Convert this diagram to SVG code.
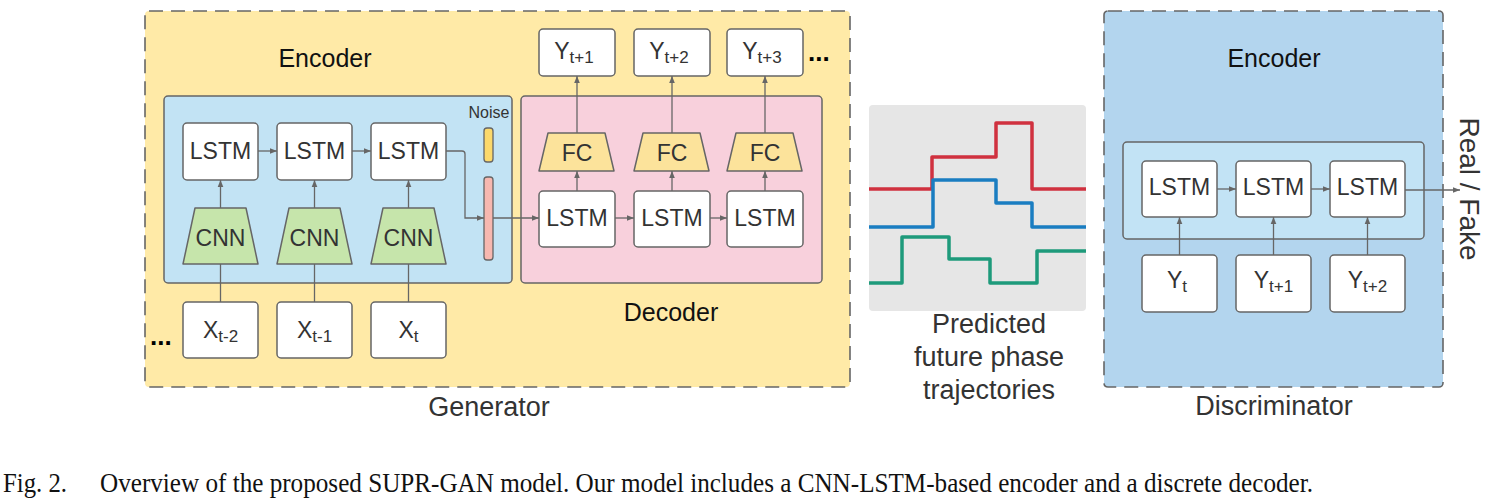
<svg xmlns="http://www.w3.org/2000/svg" width="1492" height="502" viewBox="0 0 1492 502">
<defs>
<marker id="ah" viewBox="0 0 10 10" refX="10" refY="5" markerWidth="7" markerHeight="7" orient="auto" markerUnits="userSpaceOnUse">
<path d="M0,1 L10,5 L0,9 z" fill="#666"/>
</marker>
<style>
.frame{stroke:#666;stroke-width:1.6;stroke-dasharray:14 8}
.box{fill:#fff;stroke:#666;stroke-width:1.5}
.t{font-family:"Liberation Sans",Arial,sans-serif;fill:#333;text-anchor:middle}
.big{font-size:27px}
.mid{font-size:23px}
.sub{font-size:17px}
.lbl{font-family:"Liberation Sans",Arial,sans-serif;font-size:25px;fill:#111;text-anchor:middle}
.con{fill:none;stroke:#666;stroke-width:1.3}
.arr{fill:none;stroke:#666;stroke-width:1.3;marker-end:url(#ah)}
.trap{stroke:#666;stroke-width:1.5;stroke-linejoin:round}
.traj{fill:none;stroke-width:3.5;stroke-linejoin:round}
.dots{font-family:"Liberation Sans",Arial,sans-serif;font-size:26px;font-weight:bold;fill:#000}
.cap{font-family:"Liberation Serif","Times New Roman",serif;font-size:27px;fill:#111}
</style>
</defs>

<!-- Generator frame -->
<g id="generator">
<rect x="145" y="11" width="705" height="376" rx="4" fill="#ffeaa7" class="frame"/>
<text class="lbl" x="325" y="67">Encoder</text>
<text class="t big" x="489" y="416">Generator</text>
</g>

<g id="gen-encoder">
<rect x="164" y="96" width="348" height="187" rx="4" fill="#c2e3f4" stroke="#666" stroke-width="1.5"/>
</g>
<g id="gen-decoder">
<rect x="521" y="96" width="301" height="187" rx="4" fill="#f8d0dc" stroke="#666" stroke-width="1.5"/>
<text class="lbl" x="671" y="321">Decoder</text>
</g>

<!-- encoder LSTMs -->
<g id="enc-lstm1"><rect class="box" x="183" y="123" width="75" height="57" rx="4"/><text class="t mid" x="220.5" y="159">LSTM</text></g>
<g id="enc-lstm2"><rect class="box" x="277" y="123" width="75" height="57" rx="4"/><text class="t mid" x="314.5" y="159">LSTM</text></g>
<g id="enc-lstm3"><rect class="box" x="371" y="123" width="75" height="57" rx="4"/><text class="t mid" x="408.5" y="159">LSTM</text></g>

<!-- CNNs -->
<g id="cnn1"><path class="trap" fill="#c6e5ab" d="M195,208 L246,208 L258,264 L183,264 Z"/><text class="t mid" x="220.5" y="246">CNN</text></g>
<g id="cnn2"><path class="trap" fill="#c6e5ab" d="M289,208 L340,208 L352,264 L277,264 Z"/><text class="t mid" x="314.5" y="246">CNN</text></g>
<g id="cnn3"><path class="trap" fill="#c6e5ab" d="M383,208 L434,208 L446,264 L371,264 Z"/><text class="t mid" x="408.5" y="246">CNN</text></g>

<!-- X inputs -->
<g id="x1"><rect class="box" x="183" y="302" width="75" height="56" rx="4"/><text class="t mid" x="220.5" y="338">X<tspan class="sub" dy="4">t-2</tspan></text></g>
<g id="x2"><rect class="box" x="277" y="302" width="75" height="56" rx="4"/><text class="t mid" x="314.5" y="338">X<tspan class="sub" dy="4">t-1</tspan></text></g>
<g id="x3"><rect class="box" x="371" y="302" width="75" height="56" rx="4"/><text class="t mid" x="408.5" y="338">X<tspan class="sub" dy="4">t</tspan></text></g>
<text class="dots" x="150" y="345">...</text>

<!-- Noise -->
<g id="noise">
<text class="t" style="font-size:16px" x="489" y="118">Noise</text>
<rect x="484" y="128" width="9" height="34" rx="3" fill="#fcd96b" stroke="#666" stroke-width="1.3"/>
</g>
<g id="latent">
<rect x="484" y="177" width="9" height="83" rx="3" fill="#f7b8b0" stroke="#666" stroke-width="1.3"/>
</g>

<!-- Decoder parts -->
<g id="y1"><rect class="box" x="539" y="29" width="76" height="47" rx="4"/><text class="t mid" x="574" y="59">Y<tspan class="sub" dy="4">t+1</tspan></text></g>
<g id="y2"><rect class="box" x="634" y="29" width="76" height="47" rx="4"/><text class="t mid" x="669" y="59">Y<tspan class="sub" dy="4">t+2</tspan></text></g>
<g id="y3"><rect class="box" x="727" y="29" width="76" height="47" rx="4"/><text class="t mid" x="762" y="59">Y<tspan class="sub" dy="4">t+3</tspan></text></g>
<text class="dots" x="808" y="61">...</text>

<g id="fc1"><path class="trap" fill="#fce39b" d="M548,133 L605,133 L614,171 L539,171 Z"/><text class="t mid" x="577" y="161">FC</text></g>
<g id="fc2"><path class="trap" fill="#fce39b" d="M643,133 L700,133 L709,171 L634,171 Z"/><text class="t mid" x="672" y="161">FC</text></g>
<g id="fc3"><path class="trap" fill="#fce39b" d="M736,133 L793,133 L802,171 L727,171 Z"/><text class="t mid" x="765" y="161">FC</text></g>

<g id="dec-lstm1"><rect class="box" x="539" y="191" width="76" height="56" rx="4"/><text class="t mid" x="577" y="226">LSTM</text></g>
<g id="dec-lstm2"><rect class="box" x="634" y="191" width="76" height="56" rx="4"/><text class="t mid" x="672" y="226">LSTM</text></g>
<g id="dec-lstm3"><rect class="box" x="727" y="191" width="76" height="56" rx="4"/><text class="t mid" x="765" y="226">LSTM</text></g>

<!-- Phase trajectories -->
<g id="trajectories">
<rect x="869" y="105" width="217" height="206" rx="4" fill="#e6e6e6"/>
<path class="traj" stroke="#d0313f" d="M869,189 H932 V157 H996 V123 H1032 V189 H1086"/>
<path class="traj" stroke="#1a7dc1" d="M869,227 H933 V180 H996 V203 H1032 V227 H1086"/>
<path class="traj" stroke="#1e9a7b" d="M869,283 H902 V237 H949 V259 H990 V283 H1037 V251 H1086"/>
<text class="t big" x="989" y="333">Predicted</text>
<text class="t big" x="989" y="366">future phase</text>
<text class="t big" x="989" y="399">trajectories</text>
</g>

<!-- Discriminator -->
<g id="discriminator">
<rect x="1104" y="11" width="339" height="376" rx="4" fill="#b3d5ee" class="frame"/>
<text class="lbl" x="1274" y="67">Encoder</text>
<text class="t big" x="1274" y="415">Discriminator</text>
</g>
<g id="disc-encoder">
<rect x="1123" y="142" width="301" height="97" rx="4" fill="#c2e3f5" stroke="#666" stroke-width="1.5"/>
</g>
<g id="d-lstm1"><rect class="box" x="1142" y="161" width="75" height="56" rx="4"/><text class="t mid" x="1179.5" y="195">LSTM</text></g>
<g id="d-lstm2"><rect class="box" x="1236" y="161" width="75" height="56" rx="4"/><text class="t mid" x="1273.5" y="195">LSTM</text></g>
<g id="d-lstm3"><rect class="box" x="1330" y="161" width="75" height="56" rx="4"/><text class="t mid" x="1367.5" y="195">LSTM</text></g>
<g id="d-y1"><rect class="box" x="1142" y="255" width="75" height="57" rx="4"/><text class="t mid" x="1177" y="288">Y<tspan class="sub" dy="4">t</tspan></text></g>
<g id="d-y2"><rect class="box" x="1236" y="255" width="75" height="57" rx="4"/><text class="t mid" x="1273.5" y="288">Y<tspan class="sub" dy="4">t+1</tspan></text></g>
<g id="d-y3"><rect class="box" x="1330" y="255" width="75" height="57" rx="4"/><text class="t mid" x="1367.5" y="288">Y<tspan class="sub" dy="4">t+2</tspan></text></g>
<g id="real-fake">
<text class="t" style="font-size:28px" transform="translate(1460,189) rotate(90)" x="0" y="0">Real / Fake</text>
</g>

<!-- Connectors -->
<g id="connectors">
<line class="con" x1="220.5" y1="302" x2="220.5" y2="264"/>
<line class="con" x1="314.5" y1="302" x2="314.5" y2="264"/>
<line class="con" x1="408.5" y1="302" x2="408.5" y2="264"/>
<line class="arr" x1="220.5" y1="208" x2="220.5" y2="180"/>
<line class="arr" x1="314.5" y1="208" x2="314.5" y2="180"/>
<line class="arr" x1="408.5" y1="208" x2="408.5" y2="180"/>
<line class="arr" x1="258" y1="151" x2="277" y2="151"/>
<line class="arr" x1="352" y1="151" x2="371" y2="151"/>
<path class="arr" d="M446,151 H462 Q465,151 465,154 V218 H484"/>
<line class="arr" x1="493" y1="218" x2="539" y2="218"/>
<line class="arr" x1="615" y1="218" x2="634" y2="218"/>
<line class="arr" x1="710" y1="218" x2="727" y2="218"/>
<line class="arr" x1="577" y1="191" x2="577" y2="171"/>
<line class="arr" x1="672" y1="191" x2="672" y2="171"/>
<line class="arr" x1="765" y1="191" x2="765" y2="171"/>
<line class="arr" x1="577" y1="133" x2="577" y2="76"/>
<line class="arr" x1="672" y1="133" x2="672" y2="76"/>
<line class="arr" x1="765" y1="133" x2="765" y2="76"/>
<line class="arr" x1="1217" y1="189" x2="1236" y2="189"/>
<line class="arr" x1="1311" y1="189" x2="1330" y2="189"/>
<line class="arr" x1="1405" y1="190" x2="1460" y2="190"/>
<line class="arr" x1="1179.5" y1="255" x2="1179.5" y2="217"/>
<line class="arr" x1="1273.5" y1="255" x2="1273.5" y2="217"/>
<line class="arr" x1="1367.5" y1="255" x2="1367.5" y2="217"/>
</g>

<!-- Caption -->
<g id="caption">
<text class="cap" x="3" y="492" textLength="64" lengthAdjust="spacingAndGlyphs">Fig. 2.</text>
<text class="cap" x="100" y="492" textLength="1213" lengthAdjust="spacingAndGlyphs">Overview of the proposed SUPR-GAN model. Our model includes a CNN-LSTM-based encoder and a discrete decoder.</text>
</g>
</svg>
